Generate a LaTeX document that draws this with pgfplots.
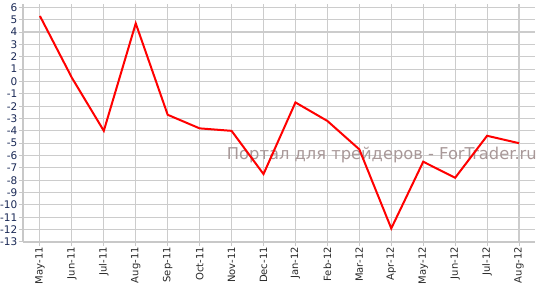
\documentclass[border=0pt]{standalone}
\usepackage{pgfplots}
\pgfplotsset{compat=1.18}
\usepackage{fontspec}
\setmainfont{DejaVu Sans}
\definecolor{gridgray}{RGB}{204,204,204}
\definecolor{axisgray}{RGB}{200,200,200}
\definecolor{ylab}{RGB}{25,40,85}
\definecolor{xlab}{RGB}{40,40,40}
\definecolor{wm}{RGB}{168,152,152}
\begin{document}
\begin{tikzpicture}
\path[use as bounding box] (-23pt,-44pt) rectangle (520pt,242pt);
\begin{axis}[
  at={(0pt,0pt)}, anchor=south west,
  scale only axis, width=512pt, height=238pt,
  xmin=-0.53, xmax=15.5, ymin=-13, ymax=6.27,
  axis x line*=bottom, axis y line*=left,
  axis line style={draw=axisgray, line width=2.4pt},
  xtick={0,...,15},
  xticklabels={May-11,Jun-11,Jul-11,Aug-11,Sep-11,Oct-11,Nov-11,Dec-11,Jan-12,Feb-12,Mar-12,Apr-12,May-12,Jun-12,Jul-12,Aug-12},
  ytick={-13,...,6},
  grid=major,
  major grid style={draw=gridgray, line width=1.1pt},
  tick align=outside,
  major tick length=4pt,
  tick style={draw=axisgray, line width=1pt},
  /pgf/number format/assume math mode=true,
  x tick label style={rotate=90, anchor=east, font=\fontsize{10}{11}\selectfont, text=xlab, inner sep=1pt},
  y tick label style={font=\fontsize{10.5}{11}\selectfont, text=ylab, inner sep=1.5pt},
  clip=false,
]
\node[anchor=base east, inner sep=0pt, text=wm, font=\fontsize{16.3}{18}\selectfont] at (axis cs:15.56,-6.31) {Портал для трейдеров - ForTrader.ru};
\addplot[red, line width=2pt, line join=miter] coordinates {
(0,5.3) (1,0.3) (2,-4.0) (3,4.7) (4,-2.7) (5,-3.8) (6,-4.0) (7,-7.5)
(8,-1.7) (9,-3.2) (10,-5.5) (11,-11.9) (12,-6.5) (13,-7.8) (14,-4.4) (15,-5.0)
};
\end{axis}
\end{tikzpicture}
\end{document}
